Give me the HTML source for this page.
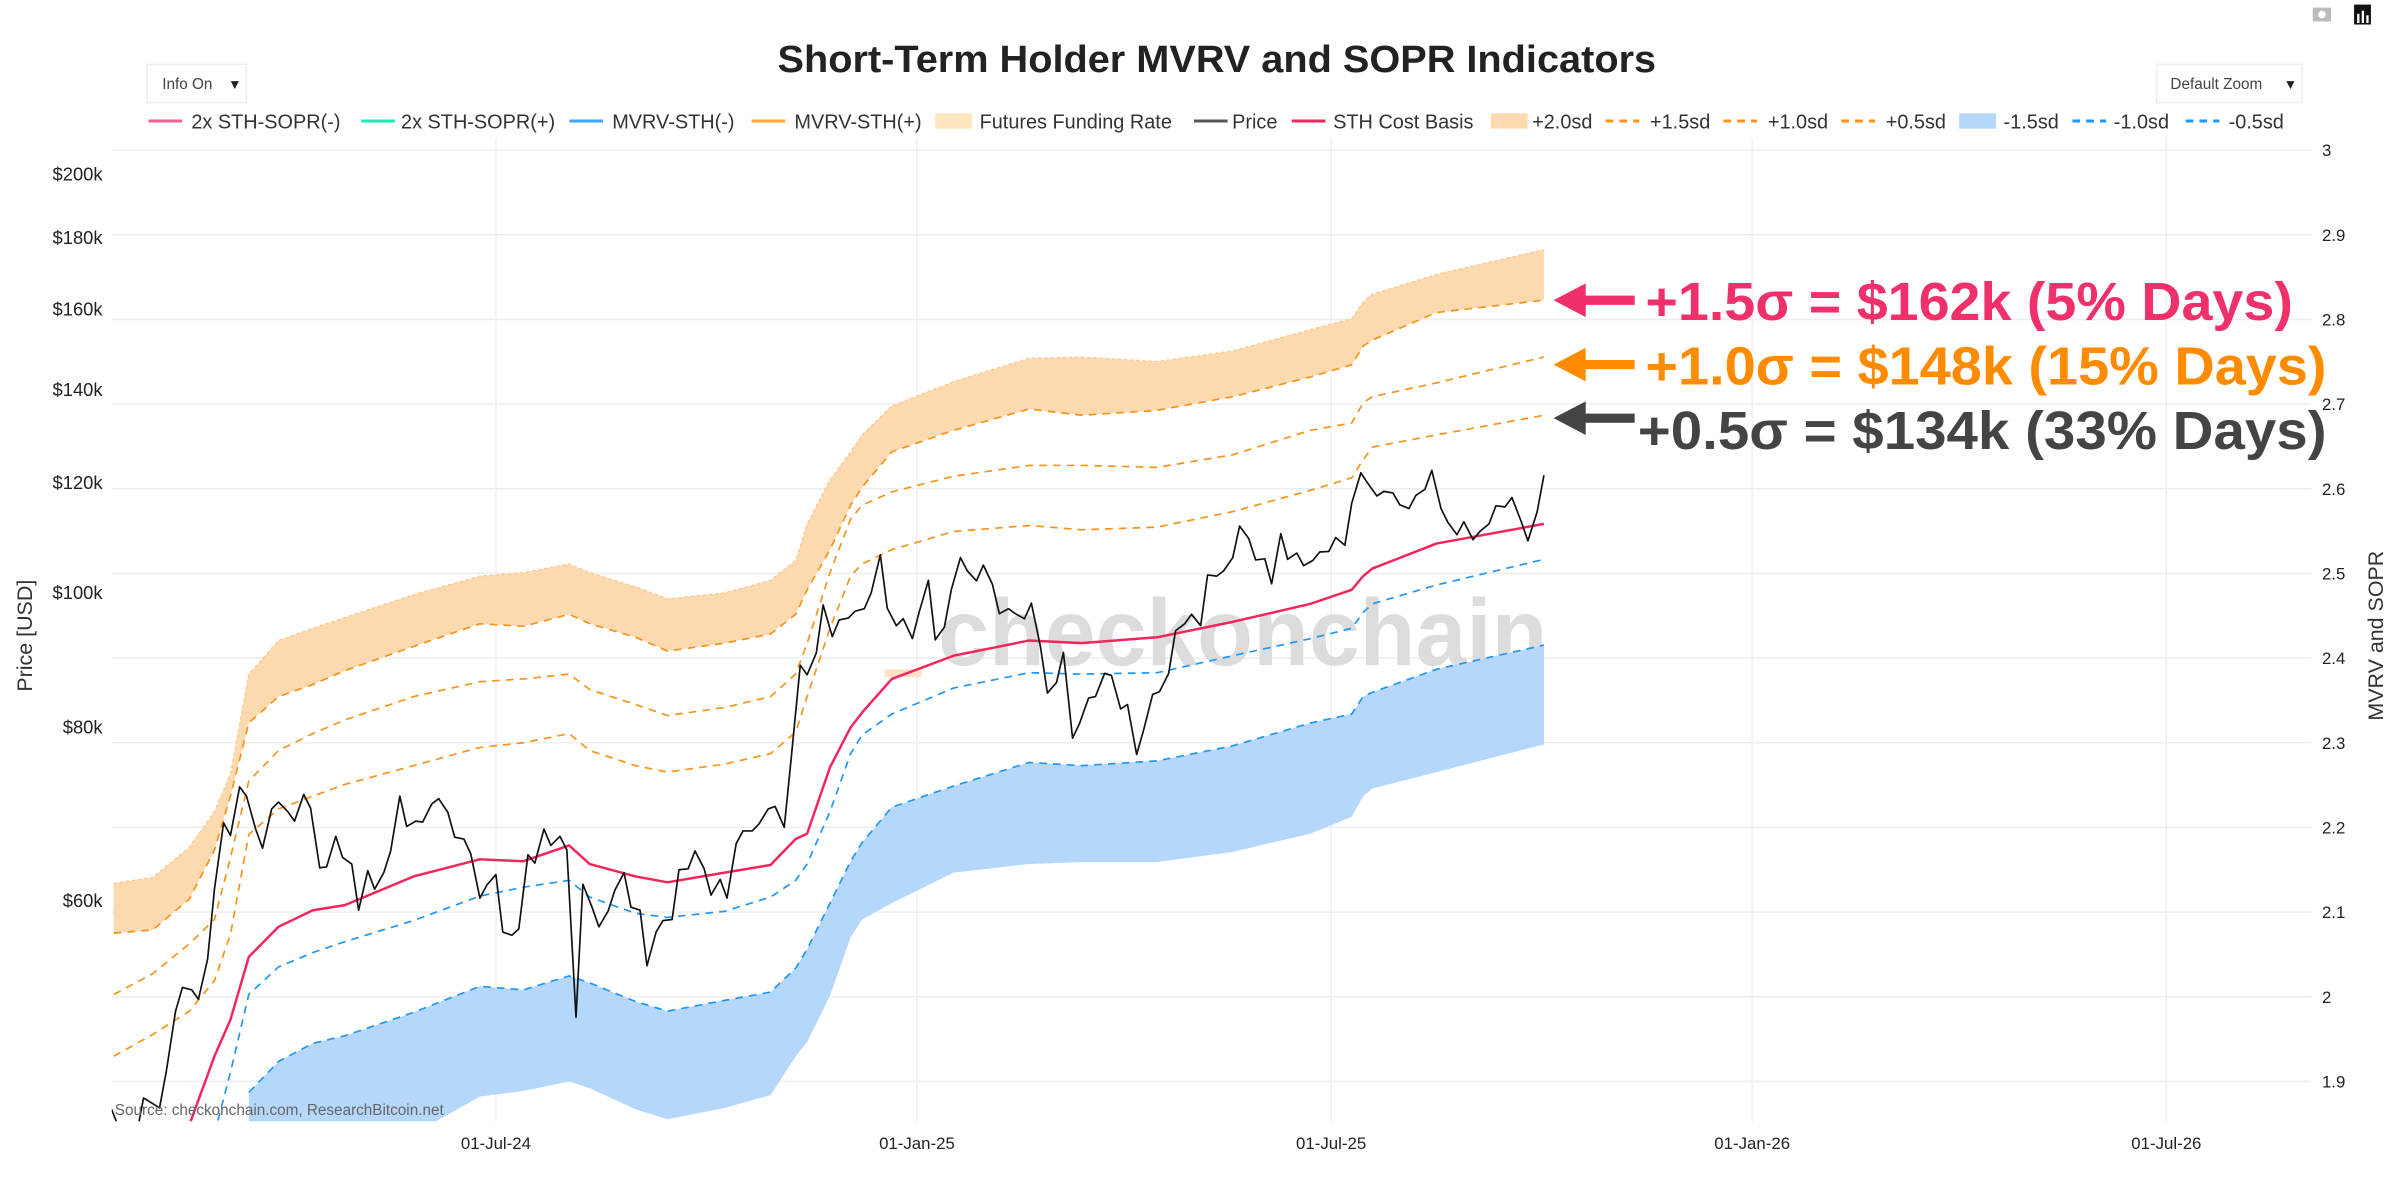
<!DOCTYPE html>
<html><head><meta charset="utf-8"><style>
html,body{margin:0;padding:0;background:#fff;width:2400px;height:1204px;overflow:hidden}
svg{display:block;font-family:"Liberation Sans",sans-serif}
</style></head><body>
<svg id="chart" width="2400" height="1204" viewBox="0 0 1568 786" preserveAspectRatio="none" xmlns="http://www.w3.org/2000/svg">
<defs><clipPath id="plotclip"><rect x="73" y="90" width="1437" height="642"/></clipPath></defs>
<text x="795" y="47" text-anchor="middle" font-size="25" font-weight="bold" fill="#222" textLength="574" lengthAdjust="spacingAndGlyphs">Short-Term Holder MVRV and SOPR Indicators</text>
<g><rect x="96" y="42" width="65" height="25" fill="#fff" stroke="#eee"/><text x="106" y="58" font-size="10" fill="#444">Info On</text><text x="149" y="58" font-size="9" fill="#222">▼</text></g>
<g><rect x="1409" y="42" width="95" height="25" fill="#fff" stroke="#eee"/><text x="1418" y="58" font-size="10" fill="#444">Default Zoom</text><text x="1492" y="58" font-size="9" fill="#222">▼</text></g>
<g><rect x="1511" y="5" width="12" height="9" rx="1" fill="#bbb"/><circle cx="1517" cy="9.5" r="2.5" fill="#fff"/></g>
<g><rect x="1538" y="3" width="11" height="13" fill="#111"/><rect x="1540" y="9" width="1.5" height="6" fill="#fff"/><rect x="1543" y="7" width="1.5" height="8" fill="#fff"/><rect x="1546" y="10" width="1.5" height="5" fill="#fff"/></g>
<g id="legend" font-size="13" fill="#333"></g>
<g id="grid"></g>
<text x="812" y="434" text-anchor="middle" font-size="62" font-weight="bold" fill="#dcdcdc" textLength="398" lengthAdjust="spacingAndGlyphs">checkonchain</text>
<rect x="578" y="437" width="24" height="5" fill="#fde3c4"/>
<g id="series" clip-path="url(#plotclip)"></g>
<g id="axes"></g>
<text x="75" y="728" font-size="10" fill="#666">Source: checkonchain.com, ResearchBitcoin.net</text>
<text transform="translate(21,415) rotate(-90)" text-anchor="middle" font-size="14" fill="#333">Price [USD]</text>
<text transform="translate(1557,415) rotate(-90)" text-anchor="middle" font-size="14" fill="#333">MVRV and SOPR</text>
<g><polygon points="1015,196 1036,185 1036,193 1068,193 1068,199 1036,199 1036,207" fill="#f0306a"/><text x="1075" y="209" font-size="35" font-weight="bold" fill="#f0306a" textLength="423" lengthAdjust="spacingAndGlyphs">+1.5σ = $162k (5% Days)</text></g>
<g><polygon points="1015,238 1036,227 1036,235 1068,235 1068,241 1036,241 1036,249" fill="#ff8c00"/><text x="1075" y="251" font-size="35" font-weight="bold" fill="#ff8c00" textLength="445" lengthAdjust="spacingAndGlyphs">+1.0σ = $148k (15% Days)</text></g>
<g><polygon points="1015,273 1036,262 1036,270 1068,270 1068,276 1036,276 1036,284" fill="#444"/><text x="1070" y="293" font-size="35" font-weight="bold" fill="#444" textLength="450" lengthAdjust="spacingAndGlyphs">+0.5σ = $134k (33% Days)</text></g>
</svg>
<script>
const bandDates=['2024-01-16','2024-02-02','2024-02-18','2024-02-29','2024-03-07','2024-03-15','2024-03-28','2024-04-12','2024-04-26','2024-05-26','2024-06-24','2024-07-13','2024-08-02','2024-08-11','2024-08-31','2024-09-14','2024-10-09','2024-10-29','2024-11-09','2024-11-14','2024-11-24','2024-12-03','2024-12-08','2024-12-21','2025-01-17','2025-02-19','2025-03-14','2025-04-16','2025-05-19','2025-06-22','2025-07-10','2025-07-15','2025-07-19','2025-08-16','2025-10-02'];
const plus20=[61.8,62.4,65.6,69.6,74.1,87.4,92.4,94.3,96.0,99.7,102.8,103.4,104.9,103.4,101.0,99.0,100,102.1,105.5,112.1,120.6,126.3,129.9,136.3,141.9,147.5,147.8,146.7,149.3,154.7,157.5,161.9,164.0,169.5,176.6];
const plus15=[56.9,57.2,60.2,65.3,71.4,80.6,84.2,85.9,87.9,91.5,95.0,94.6,96.5,95.0,92.9,90.8,92.0,93.4,96.5,100.5,107.4,115.6,119.1,126.3,130.9,135.6,134.2,135.3,138.4,143.0,145.9,150.5,152.0,159.1,162.4];
const plus10=[51.4,53.2,55.9,58.2,64.5,73.2,77.0,79.2,81.0,84.2,86.3,86.7,87.4,85.2,83.1,81.6,82.7,84.2,87.4,92.0,103.4,113.0,115.6,118.2,121.3,123.5,123.5,123.1,125.7,130.9,132.5,137.0,138.4,141.6,147.8];
const plus05=[46.4,48.1,50.0,52.6,56.8,67.0,69.9,71.4,72.8,75.1,77.4,78.0,79.2,77.0,75.1,74.3,75.3,76.6,79.4,84.2,94.3,102.8,104.9,107.4,110.7,111.8,111.0,111.5,114.4,118.5,121.0,124.7,127.3,129.9,134.2];
const costBasis=[null,null,41.4,46.4,49.3,54.7,57.5,59.1,59.6,62.5,64.3,64.1,65.8,63.8,62.5,61.9,62.9,63.7,66.5,67.1,74.9,80.0,82.0,86.7,90.1,92.4,92.0,92.9,95.3,98.2,100.5,102.8,104.1,108.5,112.1];
const minus05=[null,null,null,40.8,45.2,51.4,53.8,55.1,56.1,58.1,60.5,61.4,62.1,60.4,58.8,58.4,59.0,60.4,62.1,63.8,69.6,76.6,79.0,81.8,85.4,87.6,87.4,87.6,90.1,92.7,94.3,96.8,98.2,101.3,105.7];
const minus10=[null,null,null,null,null,43.7,46.0,47.4,48.0,49.9,52.1,51.8,53.0,52.4,50.8,50.0,50.9,51.6,53.7,55.4,59.8,64.1,66.1,70.1,72.6,75.5,75.1,75.7,77.6,80.6,81.8,84.2,84.8,88.1,91.7];
const minus15=[null,null,null,null,null,40.3,40.3,40.3,40.3,40.8,43.4,43.8,44.5,44.0,42.5,41.8,42.6,43.5,46.4,47.5,51.3,56.5,58.2,59.8,62.9,63.8,64.0,64.0,65.1,67.1,69.0,71.4,72.3,74.3,77.8];
const priceStart='2024-01-15';
const price=[42.5,41.3,39.5,40.0,43.3,43.0,42.6,45.3,50.0,52.0,51.8,51.0,54.5,61.2,68.3,66.9,72.5,71.4,67.6,65.5,69.9,70.7,69.6,68.5,71.6,70.0,63.4,63.5,66.8,64.5,63.8,59.1,63.1,61.2,62.9,65.2,71.4,67.9,68.5,68.4,70.5,71.1,69.5,66.7,66.5,64.9,60.3,61.6,62.7,57.0,56.7,57.3,64.8,63.9,67.6,65.8,66.8,65.3,49.5,61.7,59.4,57.5,59.0,61.1,62.9,59.4,59.1,53.9,57.0,58.1,58.2,63.2,63.3,65.2,63.3,60.6,62.2,60.3,66.0,67.4,67.4,68.2,69.9,70.2,67.8,75.9,88.7,87.3,90.5,98.0,93.0,95.6,95.9,97.0,97.4,100.0,106.5,97.5,94.7,95.8,92.7,96.9,102.1,92.5,94.5,100.5,106.0,103.7,102.0,104.7,101.4,96.6,97.4,96.6,95.8,98.3,91.4,84.7,86.2,90.6,78.6,80.5,84.0,84.2,87.5,87.2,82.5,83.1,76.5,79.6,84.5,84.9,87.5,93.9,95.0,96.5,94.7,103.0,102.8,103.7,106.0,111.7,109.4,105.6,105.8,101.5,110.3,105.7,106.8,104.6,105.5,107.0,107.1,109.6,108.2,116.0,122.0,119.9,117.4,118.3,118.0,115.7,115.0,117.5,118.7,122.5,115.0,112.4,110.1,112.5,109.2,110.7,112.1,115.5,115.3,117.1,112.6,109.0,114.3,121.5];
const leftTicks=[60,80,100,120,140,160,180,200];
const leftTickLabels=['$60k','$80k','$100k','$120k','$140k','$160k','$180k','$200k'];
const rightTicks=[1.9,2.0,2.1,2.2,2.3,2.4,2.5,2.6,2.7,2.8,2.9,3.0];
const rightTickLabels=['1.9','2','2.1','2.2','2.3','2.4','2.5','2.6','2.7','2.8','2.9','3'];
const xTicks=['2024-07-01','2025-01-01','2025-07-01','2026-01-01','2026-07-01'];
const xTickLabels=['01-Jul-24','01-Jan-25','01-Jul-25','01-Jan-26','01-Jul-26'];

const NS='http://www.w3.org/2000/svg';
const DAY=86400000, X0=Date.UTC(2024,6,1);
function xs(d){const t=typeof d==='string'?Date.parse(d+'T00:00:00Z'):d;return 324+(t-X0)/DAY*1.495;}
function yp(p){return 387-394*Math.log(p/100);}
function yr(v){return 98+(3-v)*552.7;}
function mk(tag,attrs,parent){const e=document.createElementNS(NS,tag);for(const k in attrs)e.setAttribute(k,attrs[k]);parent.appendChild(e);return e;}
const grid=document.getElementById('grid'),axes=document.getElementById('axes'),series=document.getElementById('series'),legend=document.getElementById('legend');

rightTicks.forEach((v,i)=>{
 const l=mk('line',{x1:73,x2:1510,y1:yr(v),y2:yr(v),stroke:'#eeeeee','stroke-width':1},grid);
 
 
 const t=mk('text',{x:1517,y:yr(v)+4,'font-size':11,fill:'#222'},axes);t.textContent=rightTickLabels[i];
 
 
});
xTicks.forEach((d,i)=>{
 const l=mk('line',{x1:xs(d),x2:xs(d),y1:90,y2:732,stroke:'#f0f0f0','stroke-width':1},grid);
 
 
 const t=mk('text',{x:xs(d),y:750,'text-anchor':'middle','font-size':11,fill:'#222'},axes);t.textContent=xTickLabels[i];
 
 
});
leftTicks.forEach((p,i)=>{
 const t=mk('text',{x:67,y:yp(p)+4,'text-anchor':'end','font-size':12,fill:'#222'},axes);t.textContent=leftTickLabels[i];
 
 
});

function pts(dates,vals){const o=[];vals.forEach((v,i)=>{if(v!=null)o.push([xs(dates[i]),yp(v)]);});return o;}
function band(top,bot,fill,name){
 const a=pts(bandDates,top),b=pts(bandDates,bot).reverse();
 const p=mk('polygon',{points:a.concat(b).map(q=>q.join(',')).join(' '),fill:fill},series);
 
 
 return p;
}
function line(dates,vals,color,w,dash,name){
 const p=mk('polyline',{points:pts(dates,vals).map(q=>q.join(',')).join(' '),fill:'none',stroke:color,'stroke-width':w,'stroke-linejoin':'round'},series);
 if(dash)p.setAttribute('stroke-dasharray',dash);
 
 
 return p;
}
band(plus20,plus15,'#fdd9b0','band-plus2sd');
band(minus10,minus15,'#b4d7fb','band-minus1-5sd');
line(bandDates,plus20,'#fcc58a',0.8,'2,2','line-plus2sd-edge');
line(bandDates,plus15,'#f7931a',1.1,'5,4','line-plus1-5sd');
line(bandDates,plus10,'#f7931a',1.1,'5,4','line-plus1sd');
line(bandDates,plus05,'#f7931a',1.1,'5,4','line-plus0-5sd');
line(bandDates,minus10,'#2196f3',1.1,'5,4','line-minus1sd');
line(bandDates,minus05,'#2196f3',1.1,'5,4','line-minus0-5sd');
line(bandDates,costBasis,'#f5245a',1.6,null,'line-sth-cost-basis');
const t0=Date.parse(priceStart+'T00:00:00Z');
const priceDates=price.map((_,i)=>t0+(Math.floor(i/2)*7+(i%2)*3)*DAY);
const pp=mk('polyline',{points:price.map((v,i)=>xs(priceDates[i])+','+yp(v)).join(' '),fill:'none',stroke:'#111','stroke-width':1.1,'stroke-linejoin':'round'},series);



const legendItems=[
 ['2x STH-SOPR(-)',97,125,'line','#f06292',null],
 ['2x STH-SOPR(+)',236,262,'line','#1de9b6',null],
 ['MVRV-STH(-)',372,400,'line','#42a5f5',null],
 ['MVRV-STH(+)',491,519,'line','#ffa726',null],
 ['Futures Funding Rate',611,640,'rect','#fde5bd',null],
 ['Price',780,805,'line','#555',null],
 ['STH Cost Basis',844,871,'line','#f5245a',null],
 ['+2.0sd',974,1001,'rect','#fdd9b0',null],
 ['+1.5sd',1049,1078,'line','#f7931a','5,4'],
 ['+1.0sd',1126,1155,'line','#f7931a','5,4'],
 ['+0.5sd',1203,1232,'line','#f7931a','5,4'],
 ['-1.5sd',1280,1309,'rect','#b4d7fb',null],
 ['-1.0sd',1354,1381,'line','#2196f3','5,4'],
 ['-0.5sd',1428,1456,'line','#2196f3','5,4']];
legendItems.forEach(it=>{
 const g=mk('g',{},legend);
 
 
 if(it[3]==='line')mk('line',{x1:it[1],x2:it[1]+22,y1:79,y2:79,stroke:it[4],'stroke-width':2,'stroke-dasharray':it[5]||'none'},g);
 else mk('rect',{x:it[1],y:74,width:24,height:10,fill:it[4]},g);
 const t=mk('text',{x:it[2],y:84,'font-size':13,fill:'#333'},g);t.textContent=it[0];
});
</script>
</body></html>
